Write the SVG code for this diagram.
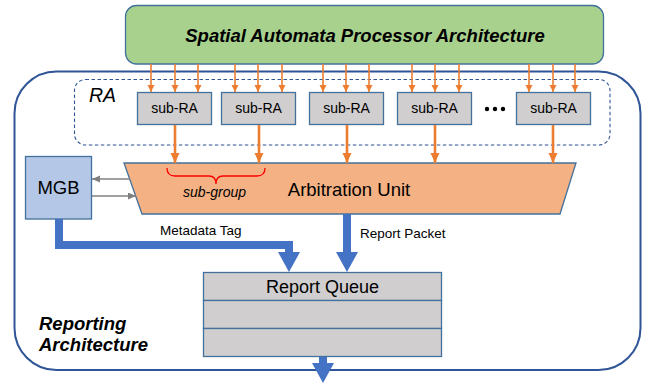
<svg xmlns="http://www.w3.org/2000/svg" width="649" height="383" viewBox="0 0 649 383">
<style>
text{font-family:"Liberation Sans",Arial,sans-serif;fill:#000}
.box{stroke:#41719c;stroke-width:1.3}
.sub{fill:#d0cece}
.or{stroke:#ed7d31;stroke-width:1.6;fill:none}
.or2{stroke:#ed7d31;stroke-width:2.6;fill:none}
.gr{stroke:#808080;stroke-width:1.6;fill:none}
.bl{stroke:#4472c4;stroke-width:8;fill:none}
</style>
<defs>
<marker id="ao" markerUnits="userSpaceOnUse" markerWidth="8" markerHeight="8" refX="7" refY="3.5" orient="auto"><path d="M0,0 L7,3.5 L0,7 z" fill="#ed7d31"/></marker>
<marker id="ao2" markerUnits="userSpaceOnUse" markerWidth="11" markerHeight="10" refX="10" refY="4.5" orient="auto"><path d="M0,0 L10,4.5 L0,9 z" fill="#ed7d31"/></marker>
<marker id="ag" markerUnits="userSpaceOnUse" markerWidth="9" markerHeight="8" refX="8" refY="3.5" orient="auto"><path d="M0,0 L8,3.5 L0,7 z" fill="#808080"/></marker>
<marker id="ab" markerUnits="userSpaceOnUse" markerWidth="21" markerHeight="23" refX="0" refY="11" orient="auto"><path d="M0,0 L20,11 L0,22 z" fill="#4472c4"/></marker>
</defs>

<g id="outer">
<rect x="14.5" y="71.5" width="626" height="298.5" rx="42" fill="none" stroke="#2f5597" stroke-width="2"/>
<text x="39" y="330" font-size="18.5" font-weight="bold" font-style="italic">Reporting</text>
<text x="39" y="351" font-size="18.5" font-weight="bold" font-style="italic">Architecture</text>
</g>

<g id="spa">
<rect x="125.5" y="5.5" width="478" height="58.5" rx="11" fill="#a9d18e" stroke="#41719c" stroke-width="1.3"/>
<text x="365" y="42" font-size="18.5" font-weight="bold" font-style="italic" text-anchor="middle">Spatial Automata Processor Architecture</text>
</g>

<g id="ra">
<rect x="74.5" y="79.5" width="535.5" height="65.5" rx="11" fill="none" stroke="#2f5597" stroke-width="1.1" stroke-dasharray="3.5,2.5"/>
<text x="89" y="102" font-size="19.5" font-style="italic">RA</text>
</g>

<g id="subra1"><rect class="box sub" x="137.5" y="92.5" width="74" height="32"/><text x="174.5" y="113" font-size="14" text-anchor="middle">sub-RA</text></g>
<g id="subra2"><rect class="box sub" x="221.5" y="92.5" width="74" height="32"/><text x="258.5" y="113" font-size="14" text-anchor="middle">sub-RA</text></g>
<g id="subra3"><rect class="box sub" x="309.5" y="92.5" width="74" height="32"/><text x="346.5" y="113" font-size="14" text-anchor="middle">sub-RA</text></g>
<g id="subra4"><rect class="box sub" x="397.5" y="92.5" width="74" height="32"/><text x="434.5" y="113" font-size="14" text-anchor="middle">sub-RA</text></g>
<g id="dots" fill="#000"><circle cx="487" cy="109" r="2.2"/><circle cx="495" cy="109" r="2.2"/><circle cx="503" cy="109" r="2.2"/></g>
<g id="subra5"><rect class="box sub" x="516.5" y="92.5" width="74" height="32"/><text x="553.5" y="113" font-size="14" text-anchor="middle">sub-RA</text></g>

<g id="arb">
<polygon points="124,163 576,163 560,214 142,214" fill="#f4b183" stroke="#41719c" stroke-width="1.3"/>
<text x="349" y="196" font-size="18.5" text-anchor="middle">Arbitration Unit</text>
<path d="M167,168 Q167,176 175,176 L209,176 Q216,176 216,184 Q216,176 223,176 L257,176 Q265,176 265,168" fill="none" stroke="#ff0000" stroke-width="1.3"/>
<text x="214.5" y="197" font-size="14" font-style="italic" text-anchor="middle">sub-group</text>
</g>

<g id="mgb">
<rect class="box" x="25.5" y="156.5" width="66" height="62.5" fill="#b4c7e7"/>
<text x="58.5" y="194" font-size="18.5" text-anchor="middle">MGB</text>
</g>

<g id="queue">
<rect class="box sub" x="203.5" y="272.5" width="238" height="28"/>
<rect class="box sub" x="203.5" y="300.5" width="238" height="28"/>
<rect class="box sub" x="203.5" y="328.5" width="238" height="28"/>
<text x="322.5" y="293" font-size="18" text-anchor="middle">Report Queue</text>
</g>

<g id="connectors">
<g class="or" marker-end="url(#ao)">
<path d="M151,64 V92"/><path d="M175,64 V92"/><path d="M198,64 V92"/>
<path d="M235,64 V92"/><path d="M258,64 V92"/><path d="M282,64 V92"/>
<path d="M323,64 V92"/><path d="M346,64 V92"/><path d="M369,64 V92"/>
<path d="M412,64 V92"/><path d="M435,64 V92"/><path d="M459,64 V92"/>
<path d="M529,64 V92"/><path d="M553,64 V92"/><path d="M575,64 V92"/>
</g>
<g class="or2" marker-end="url(#ao2)">
<path d="M175,125 V163"/><path d="M259,125 V163"/><path d="M347,125 V163"/><path d="M435,125 V163"/><path d="M553,125 V163"/>
</g>
<path class="gr" d="M130,179 H92" marker-end="url(#ag)"/>
<path class="gr" d="M92,196 H136" marker-end="url(#ag)"/>
<path class="bl" d="M59,219 V245 H289 V252" marker-end="url(#ab)"/>
<path class="bl" d="M347,214 V252" marker-end="url(#ab)"/>
<path class="bl" d="M323,357 V363" marker-end="url(#ab)"/>
<text x="160" y="235" font-size="13.5">Metadata Tag</text>
<text x="360" y="238" font-size="13.5">Report Packet</text>
</g>
</svg>
